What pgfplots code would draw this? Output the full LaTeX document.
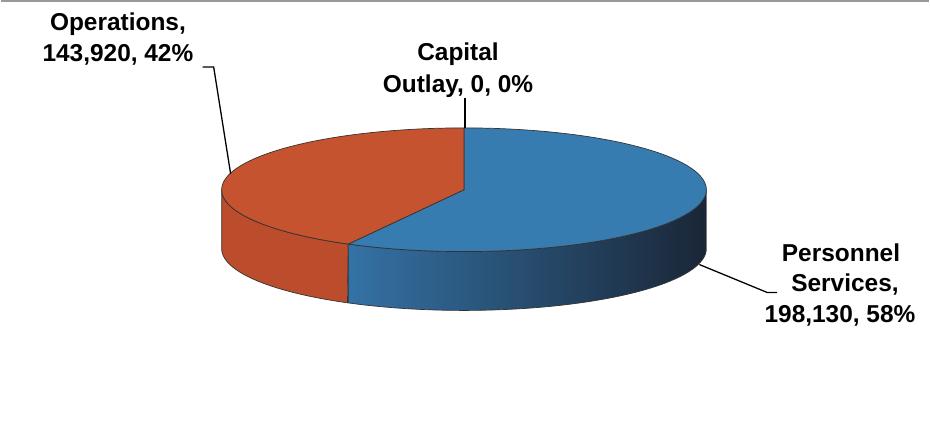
\documentclass[border=0pt]{standalone}
\usepackage{pgfplots}
\pgfplotsset{compat=1.18}
\usepackage{pgfplotstable}
\usepackage{fontspec}
\setmainfont{Liberation Sans}
\definecolor{opor}{HTML}{C5532F}
\definecolor{oporside}{HTML}{BC4D2C}
\definecolor{psblue}{HTML}{377CB1}
\definecolor{psside}{HTML}{3472A5}
\definecolor{psmid}{HTML}{25486C}
\definecolor{psdark}{HTML}{1A2637}
\pgfplotstableread{
label value
Personnel 198130
Operations 143920
Capital 0
}\piedata
\pgfplotstablegetelem{0}{value}\of\piedata \let\vP\pgfplotsretval
\pgfplotstablegetelem{1}{value}\of\piedata \let\vO\pgfplotsretval
\pgfplotstablegetelem{2}{value}\of\piedata \let\vC\pgfplotsretval
\pgfkeys{/pgf/fpu=true,/pgf/fpu/output format=fixed}
\pgfmathsetmacro\aP{360*\vP/(\vP+\vO+\vC)}
\pgfkeys{/pgf/fpu=false}
\pgfmathsetmacro\bnd{90-\aP}
\def\cx{464}\def\cy{247}\def\rx{243}\def\ry{62}\def\dep{59}
\begin{document}
\begin{tikzpicture}
\begin{axis}[hide axis, scale only axis, width=930pt, height=437pt,
  xmin=0, xmax=930, ymin=0, ymax=437, clip=false]
\path (axis cs:0,0) rectangle (axis cs:930,437);
\addplot[draw=gray!80, line width=2.5pt] coordinates {(0,436) (930,436)};
% orange side: from -180 to bnd
\pgfmathsetmacro\sa{-180}\pgfmathsetmacro\sb{\bnd}\pgfmathsetmacro\se{2*\sb-\sa}
\addplot[fill=oporside, draw=black!80, line width=0.7pt, samples=601, domain=\sa:\se, variable=\t]
 ({\t<=\sb ? \cx+\rx*cos(\t) : \cx+\rx*cos(2*\sb-\t)},
  {\t<=\sb ? \cy+\ry*sin(\t) : \cy-\dep+\ry*sin(2*\sb-\t)}) -- cycle;
% blue side: from bnd to 0
\pgfmathsetmacro\sa{\bnd}\pgfmathsetmacro\sb{0}\pgfmathsetmacro\se{2*\sb-\sa}
\addplot[left color=psside, middle color=psmid, right color=psdark, draw=black!80, line width=0.7pt, samples=601, domain=\sa:\se, variable=\t]
 ({\t<=\sb ? \cx+\rx*cos(\t) : \cx+\rx*cos(2*\sb-\t)},
  {\t<=\sb ? \cy+\ry*sin(\t) : \cy-\dep+\ry*sin(2*\sb-\t)}) -- cycle;
% top faces
\addplot[fill=psblue, draw=black!80, line width=0.7pt, samples=241, domain=\bnd:90, variable=\t]
 ({\cx+\rx*cos(\t)},{\cy+\ry*sin(\t)}) -- (axis cs:\cx,\cy) -- cycle;
\addplot[fill=opor, draw=black!80, line width=0.7pt, samples=241, domain=90:360+\bnd, variable=\t]
 ({\cx+\rx*cos(\t)},{\cy+\ry*sin(\t)}) -- (axis cs:\cx,\cy) -- cycle;
% leader lines
\addplot[black, line width=1.3pt] coordinates {(202,370) (213,370) (230,263)};
\addplot[black, line width=1.3pt] coordinates {(465,339) (465,309)};
\addplot[black, line width=1.3pt] coordinates {(700,172) (768,144) (778,144)};
% labels
\begin{scope}[every node/.style={anchor=base, inner sep=0pt, font=\fontsize{24.5}{30}\selectfont\bfseries}]
\node at (axis cs:117,407) {Operations,};
\node at (axis cs:117,376) {143,920, 42\%};
\node at (axis cs:458,377) {Capital};
\node at (axis cs:458,345) {Outlay, 0, 0\%};
\node at (axis cs:842,175) {Personnel};
\node at (axis cs:846,145) {Services,};
\node at (axis cs:841,114) {198,130, 58\%};
\end{scope}
\end{axis}
\end{tikzpicture}
\end{document}
